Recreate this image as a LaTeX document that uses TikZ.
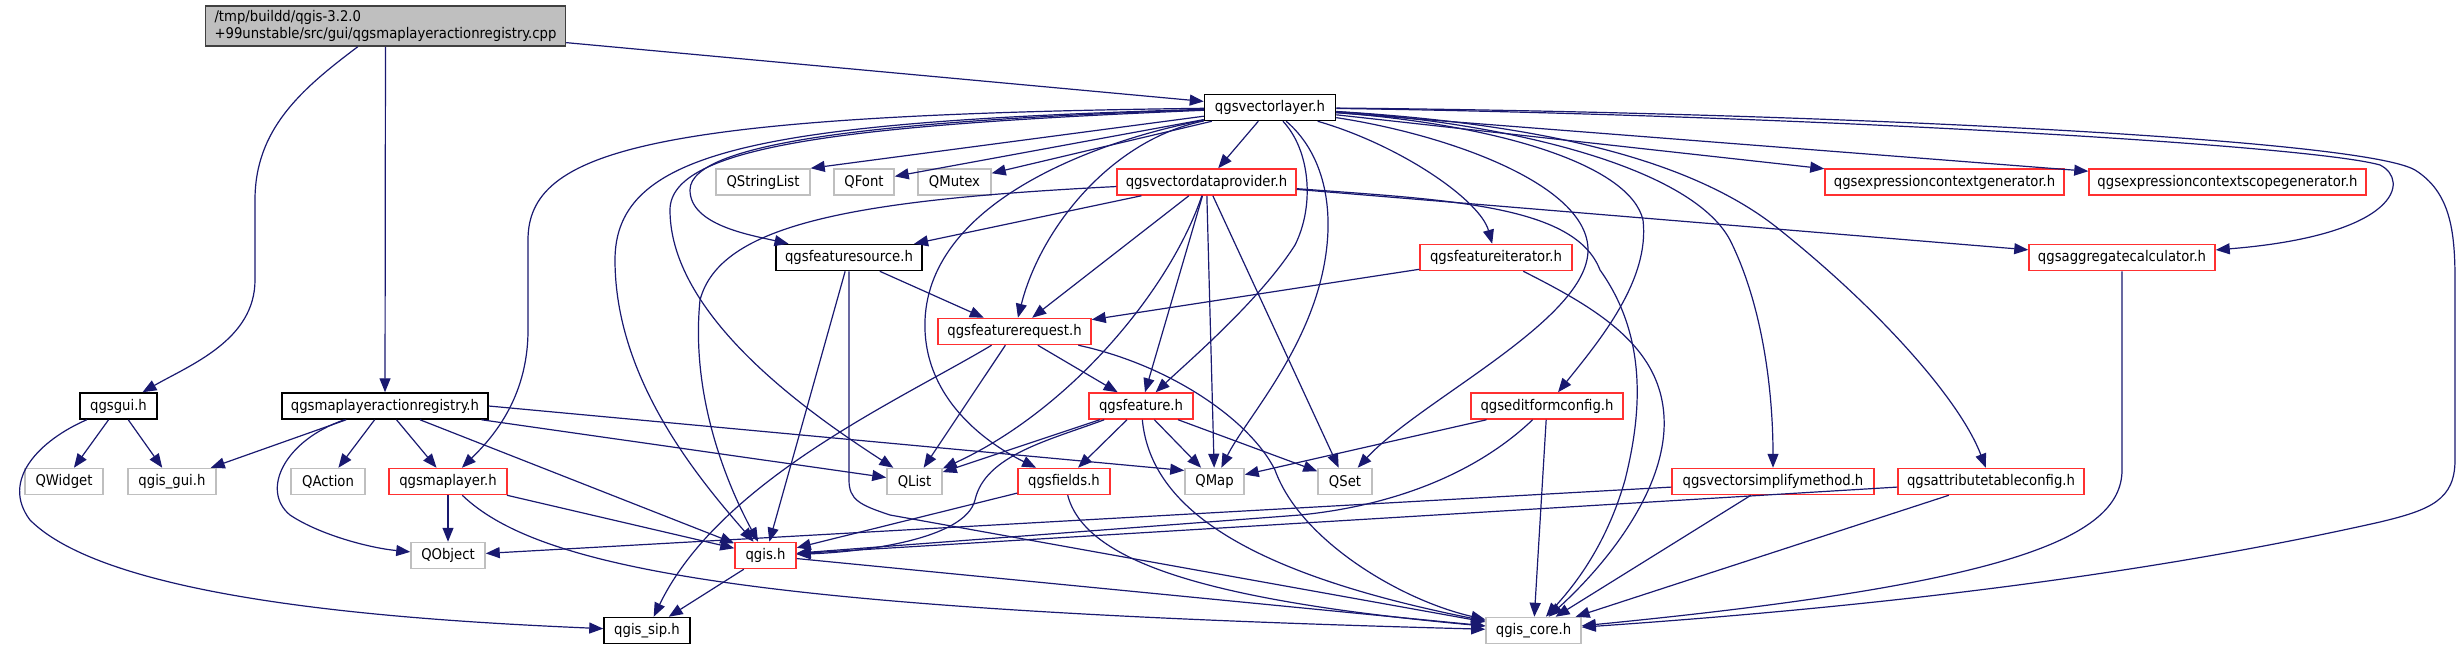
\documentclass[tikz,border=0pt]{standalone}
\usepackage{fontspec}
\setmainfont{DejaVu Sans Condensed}
\usepackage{tikz}
\usetikzlibrary{arrows.meta}

\definecolor{edgeblue}{HTML}{191970}
\definecolor{truncred}{HTML}{FF3030}
\definecolor{extgray}{HTML}{BFBFBF}
\definecolor{rootfill}{HTML}{BFBFBF}
\definecolor{rootline}{HTML}{404040}

\begin{document}
\begin{tikzpicture}[
  x=1pt, y=-1pt,
  nodebox/.style={rectangle, draw, line width=1.5pt, fill=white, inner xsep=4pt,
                  inner ysep=0pt, minimum height=26pt, font=\fontsize{14.7}{17.6}\selectfont},
  docbox/.style={nodebox, draw=black},
  truncbox/.style={nodebox, draw=truncred},
  extbox/.style={nodebox, draw=extgray},
  rootbox/.style={nodebox, draw=rootline, fill=rootfill, align=left, minimum height=40pt, inner xsep=9pt},
  dep/.style={->, draw=edgeblue, line width=1.2pt},
  >={Triangle[length=14pt,width=11pt]}
]
\useasboundingbox (0,0) rectangle (2459,649);

% file and its headers
\node[rootbox, minimum width=355pt] (main) at (385.5,26) {/tmp/buildd/qgis-3.2.0\\+99unstable/src/gui/qgsmaplayeractionregistry.cpp};
\node[docbox, minimum width=131pt] (vlayer) at (1270,107.5) {qgsvectorlayer.h};

\node[extbox, minimum width=94pt] (qstringlist) at (763,182) {QStringList};
\node[extbox, minimum width=60pt] (qfont) at (864,182) {QFont};
\node[extbox, minimum width=73pt] (qmutex) at (954.5,182) {QMutex};
\node[truncbox, minimum width=179pt] (vdprov) at (1206.5,182) {qgsvectordataprovider.h};
\node[truncbox, minimum width=239pt] (exprgen) at (1944.5,182) {qgsexpressioncontextgenerator.h};
\node[truncbox, minimum width=277pt] (exprscope) at (2227.5,182) {qgsexpressioncontextscopegenerator.h};

\node[docbox, minimum width=146pt] (fsource) at (849,257.5) {qgsfeaturesource.h};
\node[truncbox, minimum width=152pt] (fiter) at (1496,257.5) {qgsfeatureiterator.h};
\node[truncbox, minimum width=186pt] (aggcalc) at (2122,257.5) {qgsaggregatecalculator.h};
\node[truncbox, minimum width=153pt] (frequest) at (1014.5,331.5) {qgsfeaturerequest.h};

\node[docbox, minimum width=77pt] (gui) at (118.5,406) {qgsgui.h};
\node[docbox, minimum width=206pt] (registry) at (385,406) {qgsmaplayeractionregistry.h};
\node[truncbox, minimum width=104pt] (feature) at (1141,406) {qgsfeature.h};
\node[truncbox, minimum width=152pt] (editform) at (1547,406) {qgseditformconfig.h};

\node[extbox, minimum width=78pt] (qwidget) at (64,481.5) {QWidget};
\node[extbox, minimum width=88pt] (qgisgui) at (172,481.5) {qgis\_gui.h};
\node[extbox, minimum width=74pt] (qaction) at (328,481.5) {QAction};
\node[truncbox, minimum width=118pt] (maplayer) at (448,481.5) {qgsmaplayer.h};
\node[extbox, minimum width=55pt] (qlist) at (914.5,481.5) {QList};
\node[truncbox, minimum width=92pt] (fields) at (1064,481.5) {qgsfields.h};
\node[extbox, minimum width=59pt] (qmap) at (1214.5,481.5) {QMap};
\node[extbox, minimum width=54pt] (qset) at (1345,481.5) {QSet};
\node[truncbox, minimum width=202pt] (simplify) at (1773,481.5) {qgsvectorsimplifymethod.h};
\node[truncbox, minimum width=186pt] (attrtable) at (1991,481.5) {qgsattributetableconfig.h};

\node[extbox, minimum width=74pt] (qobject) at (448,555.5) {QObject};
\node[truncbox, minimum width=61pt] (qgis) at (765.5,555.5) {qgis.h};
\node[docbox, minimum width=86pt] (qgissip) at (647,630.5) {qgis\_sip.h};
\node[extbox, minimum width=95pt] (qgiscore) at (1533.5,630.5) {qgis\_core.h};

% includes of the .cpp
\draw[dep] (main) -- (vlayer);
\draw[dep] (main) -- (registry);
\draw[dep] (main) .. controls (300,90) and (255,130) .. (255,200) -- (255,280) .. controls (255,340) and (190,365) .. (gui);

% qgsgui.h
\draw[dep] (gui) -- (qwidget);
\draw[dep] (gui) -- (qgisgui);
\draw[dep] (gui) .. controls (40,440) and (0,480) .. (30,520) .. controls (110,600) and (400,620) .. (qgissip);

% qgsmaplayeractionregistry.h
\draw[dep] (registry) -- (qgisgui);
\draw[dep] (registry) .. controls (285,440) and (260,490) .. (290,515) .. controls (320,535) and (370,548) .. (qobject);
\draw[dep] (registry) -- (qaction);
\draw[dep] (registry) -- (maplayer);
\draw[dep] (registry) -- (qgis);
\draw[dep] (registry) -- (qlist);
\draw[dep] (registry.east) -- (qmap.160);

% qgsmaplayer.h, qgis.h
\draw[dep] (maplayer) -- (qobject);
\draw[dep] (maplayer) -- (qgis);
\draw[dep] (maplayer) .. controls (540,570) and (760,610) .. (qgiscore);
\draw[dep] (qgis) -- (qgissip);
\draw[dep] (qgis) -- (qgiscore);

% qgsvectorlayer.h
\draw[dep] (vlayer) -- (qstringlist.north east);
\draw[dep] (vlayer) -- (qfont);
\draw[dep] (vlayer) -- (qmutex);
\draw[dep] (vlayer) -- (vdprov);
\draw[dep] (vlayer) -- (exprgen);
\draw[dep] (vlayer) -- (exprscope);
\draw[dep] (vlayer) .. controls (900,120) and (690,140) .. (690,190) .. controls (690,225) and (750,235) .. (fsource);
\draw[dep] (vlayer) .. controls (850,125) and (670,145) .. (670,210) .. controls (670,320) and (820,420) .. (qlist);
\draw[dep] (vlayer) .. controls (760,122) and (615,150) .. (615,260) .. controls (615,380) and (700,480) .. (qgis);
\draw[dep] (vlayer) .. controls (650,115) and (528,150) .. (528,240) -- (528,330) .. controls (528,400) and (490,440) .. (maplayer);
\draw[dep] (vlayer) .. controls (1110,140) and (1040,230) .. (frequest);
\draw[dep] (vlayer) .. controls (1100,140) and (930,200) .. (925,320) .. controls (922,400) and (990,445) .. (fields);
\draw[dep] (vlayer) .. controls (1310,150) and (1315,205) .. (1295,245) .. controls (1260,300) and (1190,360) .. (feature);
\draw[dep] (vlayer) .. controls (1320,150) and (1335,200) .. (1325,260) .. controls (1310,350) and (1245,420) .. (qmap);
\draw[dep] (vlayer) .. controls (1400,145) and (1480,200) .. (fiter);
\draw[dep] (vlayer) .. controls (1450,135) and (1588,185) .. (1588,250) .. controls (1588,320) and (1420,400) .. (qset);
\draw[dep] (vlayer) .. controls (1500,125) and (1630,165) .. (1643,220) .. controls (1650,280) and (1600,340) .. (editform);
\draw[dep] (vlayer) .. controls (1500,122) and (1690,165) .. (1730,240) .. controls (1765,310) and (1773,400) .. (simplify);
\draw[dep] (vlayer) .. controls (1560,125) and (1700,165) .. (1780,230) .. controls (1880,310) and (1960,400) .. (attrtable);
\draw[dep] (vlayer) .. controls (1800,115) and (2310,145) .. (2380,165) .. controls (2410,180) and (2400,235) .. (aggcalc);
\draw[dep] (vlayer) .. controls (1800,112) and (2360,138) .. (2415,170) .. controls (2450,192) and (2455,230) .. (2455,280)
  -- (2455,460) .. controls (2455,500) and (2430,510) .. (2380,522) .. controls (2100,585) and (1800,612) .. (qgiscore);

% qgsvectordataprovider.h
\draw[dep] (vdprov) -- (fsource);
\draw[dep] (vdprov) -- (frequest);
\draw[dep] (vdprov) -- (feature);
\draw[dep] (vdprov) .. controls (1170,290) and (1070,410) .. (qlist);
\draw[dep] (vdprov) -- (qmap);
\draw[dep] (vdprov) -- (qset);
\draw[dep] (vdprov) .. controls (850,200) and (720,225) .. (700,300) .. controls (690,400) and (730,490) .. (qgis);
\draw[dep] (vdprov) -- (aggcalc);
\draw[dep] (vdprov) .. controls (1450,200) and (1575,205) .. (1600,270) .. controls (1650,340) and (1640,420) .. (1625,480)
  .. controls (1605,550) and (1570,590) .. (qgiscore);

% second level
\draw[dep] (fsource) -- (frequest);
\draw[dep] (fsource) -- (qgis);
\draw[dep] (fsource) -- (849,480) .. controls (849,500) and (860,505) .. (890,515) -- (qgiscore);
\draw[dep] (fiter) -- (frequest);
\draw[dep] (fiter) .. controls (1600,310) and (1668,350) .. (1664,430) .. controls (1660,500) and (1600,570) .. (qgiscore);
\draw[dep] (aggcalc) -- (2122,470) .. controls (2122,540) and (2000,585) .. (qgiscore);

\draw[dep] (frequest) -- (feature);
\draw[dep] (frequest) -- (qlist);
\draw[dep] (frequest) .. controls (900,400) and (720,480) .. (qgissip);
\draw[dep] (frequest) .. controls (1170,365) and (1250,420) .. (1275,470) .. controls (1300,540) and (1400,600) .. (qgiscore);

\draw[dep] (feature) -- (qlist);
\draw[dep] (feature) .. controls (1050,440) and (985,455) .. (975,500) .. controls (965,540) and (860,552) .. (qgis);
\draw[dep] (feature) -- (fields);
\draw[dep] (feature) -- (qmap);
\draw[dep] (feature) -- (qset);
\draw[dep] (feature) .. controls (1150,500) and (1230,570) .. (qgiscore);

\draw[dep] (fields) -- (qgis);
\draw[dep] (fields) .. controls (1085,560) and (1200,600) .. (qgiscore);

\draw[dep] (editform) -- (qmap);
\draw[dep] (editform) .. controls (1480,470) and (1400,505) .. (1300,515) -- (qgis);
\draw[dep] (editform) -- (qgiscore);

\draw[dep] (simplify) -- (qobject);
\draw[dep] (simplify) -- (qgiscore);
\draw[dep] (attrtable) -- (qgis);
\draw[dep] (attrtable) -- (qgiscore);
\end{tikzpicture}
\end{document}
